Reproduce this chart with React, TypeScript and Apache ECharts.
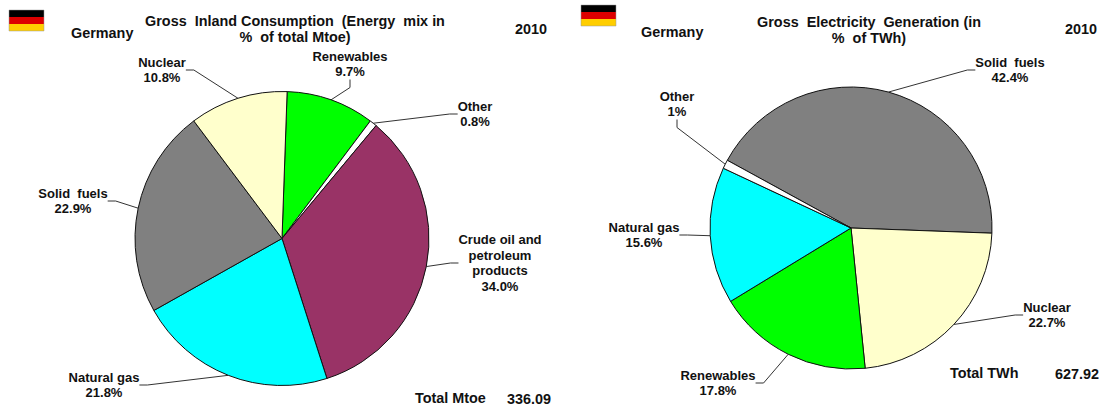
import React, { useEffect, useRef } from "react";
import * as echarts from "echarts";

const leftCategories = ["Renewables", "Other", "Crude oil and\npetroleum\nproducts", "Natural gas", "Solid  fuels", "Nuclear"];
const leftValues = [9.7, 0.8, 34.0, 21.8, 22.9, 10.8];
const leftValueLabels = ["9.7%", "0.8%", "34.0%", "21.8%", "22.9%", "10.8%"];
const rightCategories = ["Solid  fuels", "Nuclear", "Renewables", "Natural gas", "Other"];
const rightValues = [42.4, 22.7, 17.8, 15.6, 1];
const rightValueLabels = ["42.4%", "22.7%", "17.8%", "15.6%", "1%"];

const colorOf: Record<string, string> = {
  "Renewables": "#00FF00",
  "Other": "#FFFFFF",
  "Crude oil and\npetroleum\nproducts": "#993366",
  "Natural gas": "#00FFFF",
  "Solid  fuels": "#808080",
  "Nuclear": "#FFFFCC",
};

// label block centres [x, y]
const leftLabelPos = [[350, 64], [475, 114], [500, 263], [104, 385], [73, 201], [162, 70]];
const rightLabelPos = [[1010, 70], [1047, 315], [718, 383], [644, 235], [677, 104]];

const FONT = "Liberation Sans";
const textStyle = { fontFamily: FONT, fontWeight: "bold" as const, fontSize: 13, color: "#111", lineHeight: 15.5 };

function pie(cats: string[], vals: number[], valLabels: string[], pos: number[][], center: number[], radius: number, startAngle: number) {
  return {
    type: "pie",
    center,
    radius,
    startAngle,
    clockwise: true,
    avoidLabelOverlap: false,
    minShowLabelAngle: 0,
    silent: true,
    data: cats.map((c, i) => ({
      name: c,
      value: vals[i],
      itemStyle: { color: colorOf[c] },
      label: { formatter: c + "\n" + valLabels[i] },
    })),
    itemStyle: { borderColor: "#111", borderWidth: 1 },
    label: { show: true, position: "outer", align: "center", ...textStyle },
    labelLine: { show: true, length: 12, length2: 8, smooth: false, lineStyle: { color: "#333", width: 1 } },
    labelLayout: (p: any) => ({
      x: pos[p.dataIndex][0],
      y: pos[p.dataIndex][1],
      align: "center",
      verticalAlign: "middle",
    }),
  };
}

function flag(x: number, y: number) {
  const w = 35, h = 7;
  return {
    type: "group",
    x,
    y,
    children: [
      { type: "rect", shape: { x: 0, y: 0, width: w, height: h }, style: { fill: "#000000" } },
      { type: "rect", shape: { x: 0, y: h, width: w, height: h }, style: { fill: "#DD0000" } },
      { type: "rect", shape: { x: 0, y: 2 * h, width: w, height: h }, style: { fill: "#FFCE00" } },
      { type: "rect", shape: { x: 0, y: 0, width: w, height: 3 * h }, style: { fill: "none", stroke: "#999", lineWidth: 0.5 } },
    ],
  };
}

function txt(text: string, x: number, y: number, align = "left") {
  return {
    type: "text",
    x,
    y,
    style: { text, fontFamily: FONT, fontWeight: "bold", fontSize: 14.4, fill: "#111", align, verticalAlign: "middle", lineHeight: 16 },
  };
}

export default function App() {
  const ref = useRef<HTMLDivElement>(null);
  useEffect(() => {
    const chart = echarts.init(ref.current!, undefined, { renderer: "svg" });
    chart.setOption({
      animation: false,
      backgroundColor: "#ffffff",
      series: [
        pie(leftCategories, leftValues, leftValueLabels, leftLabelPos, [282, 238.5], 147, 88),
        pie(rightCategories, rightValues, rightValueLabels, rightLabelPos, [851, 228], 141, 151.3),
      ],
      graphic: [
        flag(9, 10),
        flag(581, 5),
        txt("Gross  Inland Consumption  (Energy  mix in\n%  of total Mtoe)", 295, 29, "center"),
        txt("Germany", 71, 33),
        txt("2010", 515, 29),
        txt("Total Mtoe", 415, 398),
        txt("336.09", 507, 399),
        txt("Gross  Electricity  Generation (in\n%  of TWh)", 869, 30, "center"),
        txt("Germany", 641, 32),
        txt("2010", 1065, 29),
        txt("Total TWh", 950, 373),
        txt("627.92", 1055, 374),
      ],
    });
    return () => chart.dispose();
  }, []);
  return <div ref={ref} style={{ position: "absolute", left: 0, top: 0, width: 1101, height: 410 }} />;
}
